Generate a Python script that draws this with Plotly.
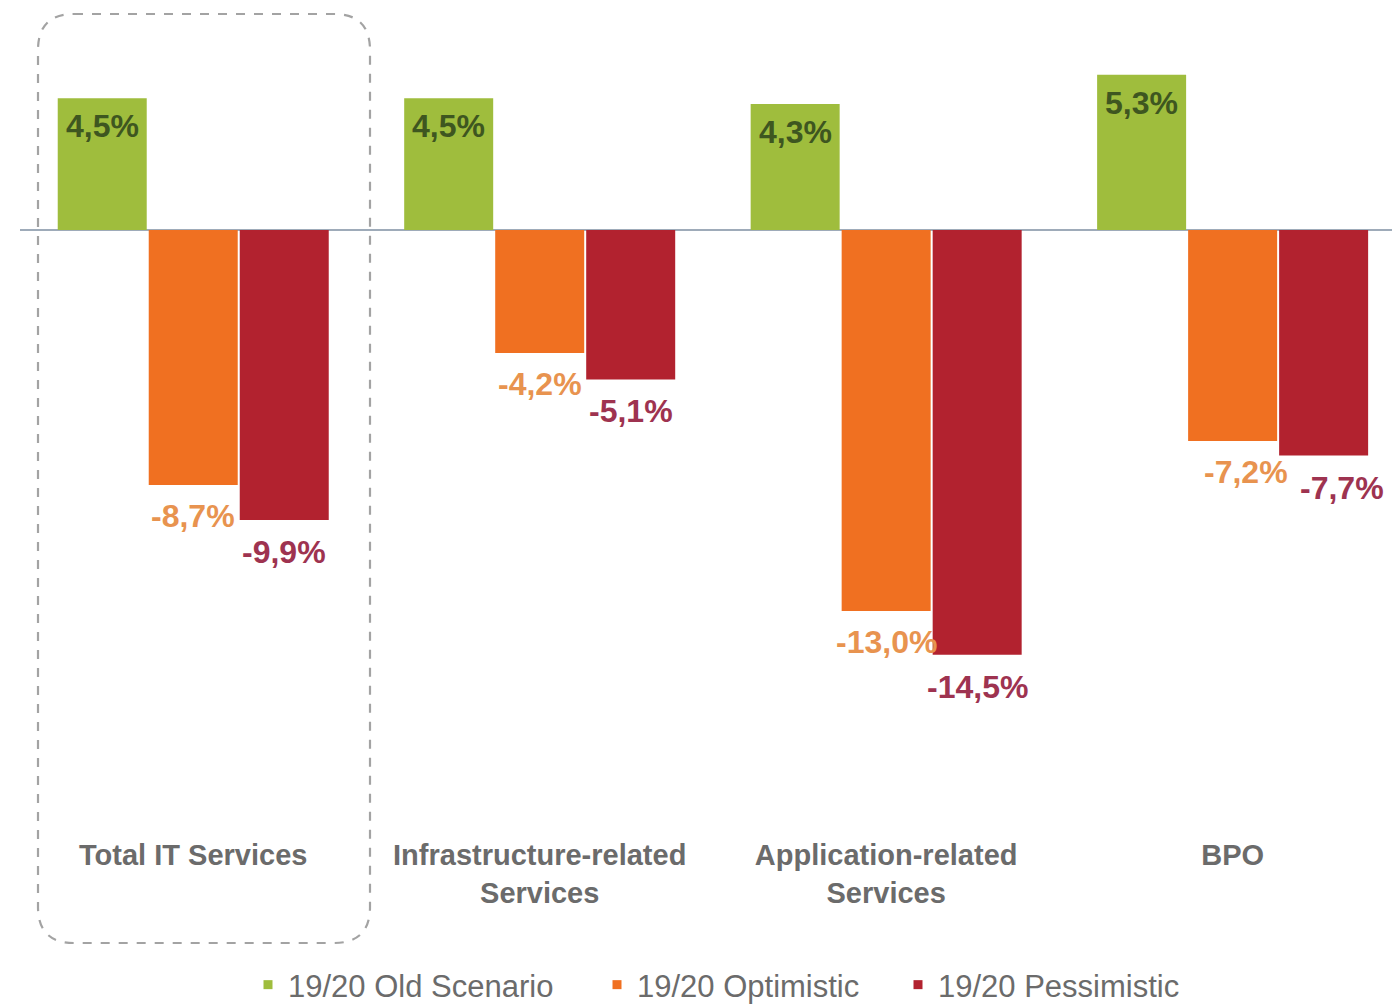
import plotly.graph_objects as go

# IT services growth scenarios, 2019/20
categories = ["Total IT Services", "Infrastructure-related<br>Services",
              "Application-related<br>Services", "BPO"]
series_names = ["19/20 Old Scenario", "19/20 Optimistic", "19/20 Pessimistic"]
old_scenario = [4.5, 4.5, 4.3, 5.3]
optimistic = [-8.7, -4.2, -13.0, -7.2]
pessimistic = [-9.9, -5.1, -14.5, -7.7]

series_values = [old_scenario, optimistic, pessimistic]
bar_colors = ["#9fbd3d", "#f07021", "#b2222f"]
label_colors = ["#3e5620", "#e8934f", "#9e3350"]
label_yshift = [-28, -31, -32]
# small horizontal nudges for the BPO labels so they don't collide
label_xshift = [[0, 0, 0, 0], [0, 0, 0, 13], [0, 0, 0, 18]]

FONT = "Liberation Sans, Arial, sans-serif"
W, H = 1392, 1005
ML, MR, MT, MB = 20, 0, 0, 170
BARGAP = 0.212
GROUPGAP = 0.022

fig = go.Figure()
xs = list(range(len(categories)))
for name, vals, col in zip(series_names, series_values, bar_colors):
    fig.add_trace(go.Bar(
        x=xs, y=vals, name=name, showlegend=False,
        marker=dict(color=col, line=dict(width=0)),
        hoverinfo="skip",
    ))

# legend entries: small square swatches, each in its own legend box
legend_ids = ["legend", "legend2", "legend3"]
legend_marker_px = [268, 617, 918]
legend_y_px = 985
for name, col, lid in zip(series_names, bar_colors, legend_ids):
    fig.add_trace(go.Scatter(
        x=[None], y=[None], mode="markers", name=name, legend=lid,
        marker=dict(symbol="square", size=9, color=col),
        hoverinfo="skip",
    ))

# value labels next to the bar ends
slot = (1 - BARGAP) / len(series_values)
for i, vals in enumerate(series_values):
    off = (i - (len(series_values) - 1) / 2) * slot
    for j, v in enumerate(vals):
        fig.add_annotation(
            x=xs[j] + off, y=v, xref="x", yref="y",
            text=f"{v:.1f}%".replace(".", ","),
            showarrow=False, yshift=label_yshift[i], xshift=label_xshift[i][j],
            font=dict(family=FONT, size=32, color=label_colors[i], weight="bold"),
        )

# dashed rounded frame around the first group (pixel geometry -> paper coords)
pw, ph = W - ML - MR, H - MT - MB


def px(xp):
    return (xp - ML) / pw


def py(yp):
    return (H - MB - yp) / ph


x0, x1, y0, y1, r = 38, 370, 14, 943, 36
path = (
    f"M {px(x0 + r)} {py(y0)} L {px(x1 - r)} {py(y0)} "
    f"Q {px(x1)} {py(y0)} {px(x1)} {py(y0 + r)} "
    f"L {px(x1)} {py(y1 - r)} "
    f"Q {px(x1)} {py(y1)} {px(x1 - r)} {py(y1)} "
    f"L {px(x0 + r)} {py(y1)} "
    f"Q {px(x0)} {py(y1)} {px(x0)} {py(y1 - r)} "
    f"L {px(x0)} {py(y0 + r)} "
    f"Q {px(x0)} {py(y0)} {px(x0 + r)} {py(y0)} Z"
)
fig.add_shape(type="path", path=path, xref="paper", yref="paper",
              line=dict(color="#a3a3a3", width=2.2, dash="dash"),
              fillcolor="rgba(0,0,0,0)", layer="below")

scale = 29.3  # px per percentage point
zero_px = 230
y_top = (zero_px - MT) / scale
y_bot = -(H - MB - zero_px) / scale

legend_style = dict(
    orientation="h", xref="container", yref="container",
    xanchor="left", yanchor="middle", y=1 - legend_y_px / H,
    font=dict(family=FONT, size=31, color="#6b6b6b"),
    itemwidth=30, bgcolor="rgba(0,0,0,0)", borderwidth=0,
)
legends = {}
for lid, mx in zip(legend_ids, legend_marker_px):
    legends[lid] = dict(legend_style, x=(mx - 20) / W)

fig.update_layout(
    width=W, height=H,
    margin=dict(l=ML, r=MR, t=MT, b=MB),
    paper_bgcolor="white", plot_bgcolor="white",
    barmode="group", bargap=BARGAP, bargroupgap=GROUPGAP,
    showlegend=True,
    xaxis=dict(
        range=[-0.5, 3.46], tickmode="array", tickvals=xs, ticktext=categories,
        showgrid=False, zeroline=False, showline=False, ticks="",
        tickfont=dict(family=FONT, size=29, color="#6b6b6b", weight="bold"),
        fixedrange=True,
    ),
    yaxis=dict(
        range=[y_bot, y_top], showgrid=False, showticklabels=False,
        zeroline=True, zerolinecolor="#9eabb9", zerolinewidth=2,
        showline=False, ticks="", fixedrange=True,
    ),
    **legends,
)

fig.write_html("out.html")
